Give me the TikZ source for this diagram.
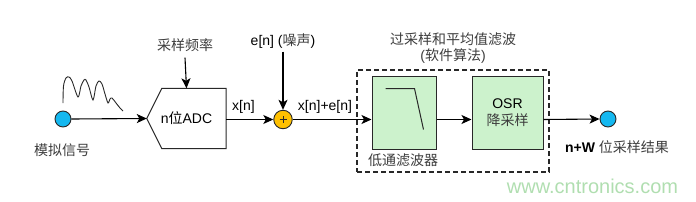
\documentclass[tikz,border=0pt]{standalone}
\usepackage{fontspec}
\setmainfont{Liberation Sans}
\newfontfamily\cjk{Noto Sans CJK SC}
\usetikzlibrary{arrows.meta,calc}
\definecolor{incyan}{RGB}{20,184,240}
\definecolor{addyel}{RGB}{255,192,0}
\definecolor{boxgreen}{RGB}{204,242,204}
\definecolor{edge}{RGB}{40,40,40}
\definecolor{cjkgray}{RGB}{60,60,60}
\definecolor{wm}{RGB}{176,222,176}
\begin{document}
\begin{tikzpicture}[x=1pt,y=-1pt,
  every node/.style={font=\fontsize{14}{16}\selectfont, inner sep=0pt},
  conn/.style={line width=1.1pt, draw=black, -{Stealth[length=10pt,width=9pt,inset=2.5pt]}},
  port/.style={circle, draw=edge, line width=0.9pt, fill=incyan, minimum size=16pt},
  gbox/.style={draw=edge, line width=1pt, fill=boxgreen},
  cj/.style={text=cjkgray},
]
\useasboundingbox (0,0) rectangle (696,201);
% input port and wave
\node[port] (in) at (63,119) {};
\node[cj] (inlab) at (62,150) {\cjk 模拟信号};
\draw[line width=0.9pt, edge, smooth] plot coordinates {(63,103) (63.5,86) (66,78) (69,77) (72,81) (78,97) (81,86) (84,80) (86,80) (89,87) (93,100) (96,86) (99,81) (102,84) (105,94) (108,103) (110,99) (112,98) (116,103) (120,108) (123,111)};
% ADC
\node (adc) at (186.5,118.5) [minimum width=79pt, minimum height=60pt] {n{\cjk 位}ADC};
\draw[line width=1pt, edge] (adc.west) -- ($(adc.north west)+(15,0)$) -- (adc.north east) -- (adc.south east) -- ($(adc.south west)+(15,0)$) -- cycle;
\node[cj] (fs) at (185,45) {\cjk 采样频率};
\draw[conn] (fs.south) ++(0,6) -- (adc.north);
\draw[conn] (in.east) -- (adc.west);
% adder
\node[circle, draw=edge, line width=0.9pt, fill=addyel, minimum size=18.5pt] (add) at (283,119.5) {};
\draw[line width=0.8pt, edge] ($(add.center)+(-3.5,0)$) -- ($(add.center)+(3.5,0)$) ($(add.center)+(0,-3.5)$) -- ($(add.center)+(0,3.5)$);
\node (en) at (283,41) {e[n] ({\cjk\color{cjkgray}噪声})};
\draw[conn] (en.south) ++(0,3) -- (add.north);
\draw[conn] (adc.east |- add) -- (add.west);
\node (xn) at (243.5,107) {x[n]};
% dashed group
\node[draw=edge, dashed, dash pattern=on 5pt off 3pt, line width=1.1pt, minimum width=192pt, minimum height=102pt] (grp) at (453,121) {};
\node[cj, align=center] (gtitle) at (453,48) {{\cjk 过采样和平均值滤波}\\({\cjk 软件算法})};
% LPF
\node[gbox, minimum width=64pt, minimum height=73pt] (lpf) at (404,112.5) {};
\draw[line width=1pt, edge] ($(lpf.north west)+(14,13)$) -- ++(29,0) -- ++(9,41);
\node[cj] (lpflab) at (403,160) {\cjk 低通滤波器};
\draw[conn] (add.east) -- (add.east -| lpf.west);
\node (xne) at (325,107) {x[n]+e[n]};
% OSR
\node[gbox, minimum width=71pt, minimum height=73pt, align=center] (osr) at (507.5,112.5) {OSR\\[1pt]{\cjk\color{cjkgray}降采样}};
\draw[conn] (lpf.east |- add) -- (osr.west |- add);
% output
\node[port] (out) at (608,119) {};
\draw[conn] (osr.east |- add) -- (out.west);
\node (outlab) at (617,147) {\textbf{n+W} {\cjk\color{cjkgray}位采样结果}};
% watermark
\node[text=wm, font=\fontsize{20}{22}\selectfont] (wmk) at (592.5,186) {www.cntronics.com};
\end{tikzpicture}
\end{document}
